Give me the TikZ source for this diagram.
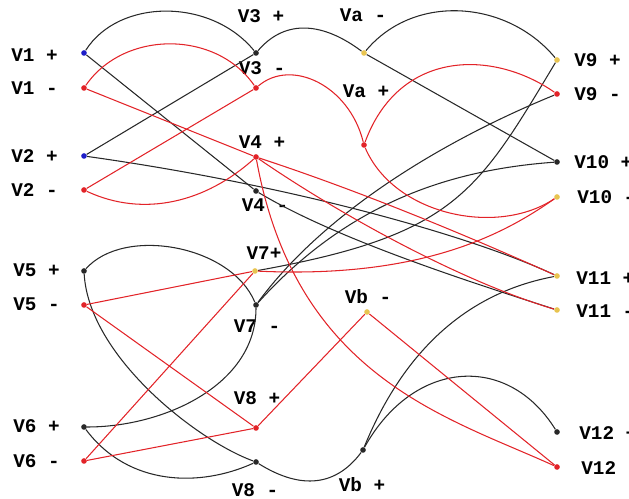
\documentclass[tikz,border=0pt]{standalone}
\usepackage{fontspec}
\setmonofont{Liberation Mono}
\usepackage{xcolor}
\usepackage{tikz}

\definecolor{rot}{RGB}{226,35,40}
\definecolor{schwarz}{RGB}{40,40,40}
\definecolor{gelb}{RGB}{232,196,80}
\definecolor{blau}{RGB}{30,30,200}

\begin{document}
\begin{tikzpicture}[x=0.02cm, y=-0.02cm,
  pkt/.style={circle, fill=#1, inner sep=0pt, minimum size=3.2pt},
  txt/.style={font=\ttfamily\bfseries\fontsize{11}{12}\selectfont, inner sep=0pt},
  sw/.style={draw=schwarz, line width=0.6pt},
  rt/.style={draw=rot, line width=0.6pt}]
  \useasboundingbox (0,0) rectangle (629,499);
  % Punkte links
  \node[pkt=blau] (V1p) at (84,53) {};
  \node[pkt=rot] (V1m) at (84,88) {};
  \node[pkt=blau] (V2p) at (84,156) {};
  \node[pkt=rot] (V2m) at (84,190) {};
  \node[pkt=schwarz] (V5p) at (84,271) {};
  \node[pkt=rot] (V5m) at (84,305) {};
  \node[pkt=schwarz] (V6p) at (84,427) {};
  \node[pkt=rot] (V6m) at (84,461) {};
  % Punkte Mitte
  \node[pkt=schwarz] (V3p) at (256,53) {};
  \node[pkt=rot] (V3m) at (256,88) {};
  \node[pkt=rot] (V4p) at (256,157) {};
  \node[pkt=schwarz] (V4m) at (256,191) {};
  \node[pkt=gelb] (V7p) at (255,271) {};
  \node[pkt=schwarz] (V7m) at (256,305) {};
  \node[pkt=rot] (V8p) at (256,428) {};
  \node[pkt=schwarz] (V8m) at (256,462) {};
  \node[pkt=gelb] (Vam) at (364,53) {};
  \node[pkt=rot] (Vap) at (364,145) {};
  \node[pkt=gelb] (Vbm) at (367,312) {};
  \node[pkt=schwarz] (Vbp) at (363,450) {};
  % Punkte rechts
  \node[pkt=gelb] (V9p) at (557,60) {};
  \node[pkt=rot] (V9m) at (557,94) {};
  \node[pkt=schwarz] (V10p) at (557,162) {};
  \node[pkt=gelb] (V10m) at (557,197) {};
  \node[pkt=gelb] (V11p) at (557,276) {};
  \node[pkt=gelb] (V11m) at (557,310) {};
  \node[pkt=schwarz] (V12p) at (557,432) {};
  \node[pkt=rot] (V12m) at (557,467) {};
  % Beschriftung
  \node[txt, anchor=west] (tV1p) at (11,55) {V1 +};
  \node[txt, anchor=west] (tV1m) at (11,88) {V1 -};
  \node[txt, anchor=west] (tV2p) at (11,156) {V2 +};
  \node[txt, anchor=west] (tV2m) at (11,190) {V2 -};
  \node[txt, anchor=west] (tV5p) at (13,270) {V5 +};
  \node[txt, anchor=west] (tV5m) at (13,304) {V5 -};
  \node[txt, anchor=west] (tV6p) at (13,426) {V6 +};
  \node[txt, anchor=west] (tV6m) at (13,461) {V6 -};
  \node[txt] (tV3p) at (261,16) {V3 +};
  \node[txt] (tV3m) at (262,68) {V3 -};
  \node[txt] (tV4p) at (262,142) {V4 +};
  \node[txt] (tV4m) at (265,205) {V4 -};
  \node[txt] (tV7p) at (264,253) {V7+};
  \node[txt] (tV7m) at (257,326) {V7 -};
  \node[txt] (tV8p) at (257,398) {V8 +};
  \node[txt] (tV8m) at (255,490) {V8 -};
  \node[txt] (tVam) at (363,15) {Va -};
  \node[txt] (tVap) at (366,91) {Va +};
  \node[txt] (tVbm) at (368,297) {Vb -};
  \node[txt] (tVbp) at (362,485) {Vb +};
  \node[txt, anchor=west] (tV9p) at (574,60) {V9 +};
  \node[txt, anchor=west] (tV9m) at (574,94) {V9 -};
  \node[txt, anchor=west] (tV10p) at (574,162) {V10 +};
  \node[txt, anchor=west] (tV10m) at (577,197) {V10 -};
  \node[txt, anchor=west] (tV11p) at (576,278) {V11 +};
  \node[txt, anchor=west] (tV11m) at (576,311) {V11 -};
  \node[txt, anchor=west] (tV12p) at (579,433) {V12 +};
  \node[txt, anchor=west] (tV12m) at (581,468) {V12 -};
  % schwarze Leitungen
  \draw[sw] (V1p) .. controls +(35,-55) and +(-45,-55) .. (V3p);
  \draw[sw] (V1p) -- (V4m);
  \draw[sw] (V2p) -- (V3p);
  \draw[sw] (V2p) .. controls +(200,28) and +(-90,-42) .. (V11p);
  \draw[sw] (V4m) .. controls +(80,48) and +(-90,-29) .. (V11m);
  \draw[sw] (V3p) .. controls +(30,-35) and +(-40,-30) .. (Vam);
  \draw[sw] (Vam) .. controls +(50,-60) and +(-50,-60) .. (V9p);
  \draw[sw] (Vam) -- (V10p);
  \draw[sw] (V5p) .. controls +(40,-45) and +(-25,-60) .. (V7m);
  \draw[sw] (V5p) .. controls +(5,85) and +(-60,-22) .. (V8m);
  \draw[sw] (V8m) .. controls +(40,25) and +(-30,40) .. (Vbp);
  \draw[sw] (V6p) .. controls +(80,0) and +(0,80) .. (V7m);
  \draw[sw] (V6p) .. controls +(45,60) and +(-55,25) .. (V8m);
  \draw[sw] (V7p) .. controls +(200,-36) and +(-80,133) .. (V9p);
  \draw[sw] (V7m) .. controls +(90,-100) and +(-110,8) .. (V10p);
  \draw[sw] (V7m) .. controls +(70,-95) and +(-110,45) .. (V9m);
  \draw[sw] (Vbp) .. controls +(45,-110) and +(-80,15) .. (V11p);
  \draw[sw] (Vbp) .. controls +(50,-90) and +(-50,-80) .. (V12p);
  % rote Leitungen
  \draw[rt] (V1m) .. controls +(40,-58) and +(-40,-58) .. (V3m);
  \draw[rt] (V1m) -- (V4p);
  \draw[rt] (V2m) -- (V3m);
  \draw[rt] (V2m) .. controls +(60,28) and +(-50,45) .. (V4p);
  \draw[rt] (V3m) .. controls +(35,-30) and +(-15,-60) .. (Vap);
  \draw[rt] (Vap) .. controls +(35,-95) and +(-65,-45) .. (V9m);
  \draw[rt] (Vap) .. controls +(30,70) and +(-60,40) .. (V10m);
  \draw[rt] (V4p) .. controls +(110,36) and +(-80,-36) .. (V11p);
  \draw[rt] (V4p) .. controls +(80,55) and +(-100,-30) .. (V11m);
  \draw[rt] (V4p) .. controls +(40,220) and +(-110,-50) .. (V12m);
  \draw[rt] (V5m) -- (V7p);
  \draw[rt] (V5m) -- (V8p);
  \draw[rt] (V6m) -- (V7p);
  \draw[rt] (V6m) -- (V8p);
  \draw[rt] (V7p) .. controls +(170,8) and +(-50,35) .. (V10m);
  \draw[rt] (V8p) -- (Vbm);
  \draw[rt] (Vbm) -- (V12m);
\end{tikzpicture}
\end{document}
